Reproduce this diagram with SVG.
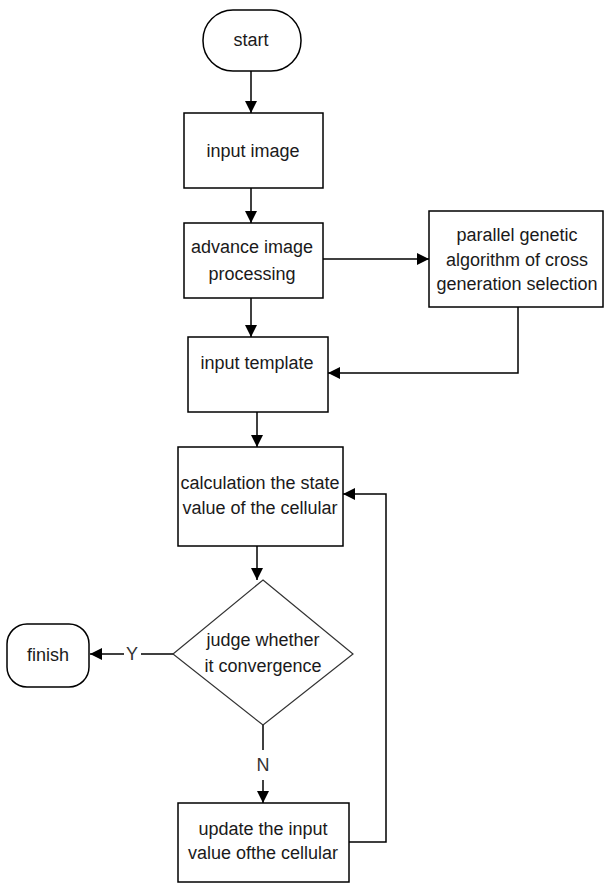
<svg xmlns="http://www.w3.org/2000/svg" width="604" height="883" viewBox="0 0 604 883">
<defs>
<marker id="ah" markerUnits="userSpaceOnUse" markerWidth="12" markerHeight="12" viewBox="0 0 12 12" refX="12" refY="6" orient="auto">
<path d="M0,0 L12,6 L0,12 z" fill="#000"/>
</marker>
<style>
.box{fill:#fff;stroke:#000;stroke-width:1.5}
.dia{fill:#fff;stroke:#333;stroke-width:1.2}
.t{font-family:"Liberation Sans",Arial,sans-serif;font-size:18px;fill:#1a1a1a;text-anchor:middle}
.c{fill:none;stroke:#000;stroke-width:1.5}
.a{marker-end:url(#ah)}
</style>
</defs>
<rect width="604" height="883" fill="#fff"/>
<g id="connectors">
<line class="c a" x1="251" y1="71" x2="251" y2="113"/>
<line class="c a" x1="251" y1="188" x2="251" y2="223"/>
<line class="c a" x1="323" y1="259" x2="429" y2="259"/>
<line class="c a" x1="251" y1="298" x2="251" y2="337"/>
<polyline class="c a" points="518,307 518,373 328,373"/>
<line class="c a" x1="257" y1="412" x2="257" y2="447"/>
<line class="c a" x1="257" y1="546" x2="257" y2="580"/>
<line class="c" x1="173" y1="654" x2="141" y2="654"/>
<line class="c a" x1="124" y1="654" x2="90" y2="654"/>
<text class="t" x="132" y="660" style="fill:#333">Y</text>
<line class="c" x1="263" y1="725" x2="263" y2="750"/>
<text class="t" x="263" y="771" style="fill:#333">N</text>
<line class="c a" x1="263" y1="780" x2="263" y2="803"/>
<polyline class="c a" points="349,842 386,842 386,494 343,494"/>
</g>
<g id="start">
<rect class="box" x="203" y="10" width="98" height="61" rx="30" ry="30"/>
<text class="t" x="251" y="46">start</text>
</g>
<g id="input-image">
<rect class="box" x="184" y="113" width="139" height="75"/>
<text class="t" x="253" y="157">input image</text>
</g>
<g id="advance">
<rect class="box" x="184" y="223" width="139" height="75"/>
<text class="t" x="252" y="253">advance image</text>
<text class="t" x="252" y="280">processing</text>
</g>
<g id="parallel">
<rect class="box" x="429" y="211" width="174" height="96"/>
<text class="t" x="517" y="241">parallel genetic</text>
<text class="t" x="517" y="266">algorithm of cross</text>
<text class="t" x="517" y="290">generation selection</text>
</g>
<g id="template">
<rect class="box" x="188" y="337" width="140" height="75"/>
<text class="t" x="257" y="369">input template</text>
</g>
<g id="calc">
<rect class="box" x="178" y="447" width="165" height="99"/>
<text class="t" x="260" y="489">calculation  the state</text>
<text class="t" x="260" y="514">value of the cellular</text>
</g>
<g id="judge">
<polygon class="dia" points="263,580 353,654 263,725 173,654"/>
<text class="t" x="263" y="646">judge whether</text>
<text class="t" x="263" y="672">it convergence</text>
</g>
<g id="finish">
<rect class="box" x="7" y="624" width="82" height="63" rx="20" ry="20"/>
<text class="t" x="48" y="661">finish</text>
</g>
<g id="update">
<rect class="box" x="178" y="803" width="171" height="79"/>
<text class="t" x="263" y="835">update the input</text>
<text class="t" x="263" y="859">value ofthe cellular</text>
</g>
</svg>
